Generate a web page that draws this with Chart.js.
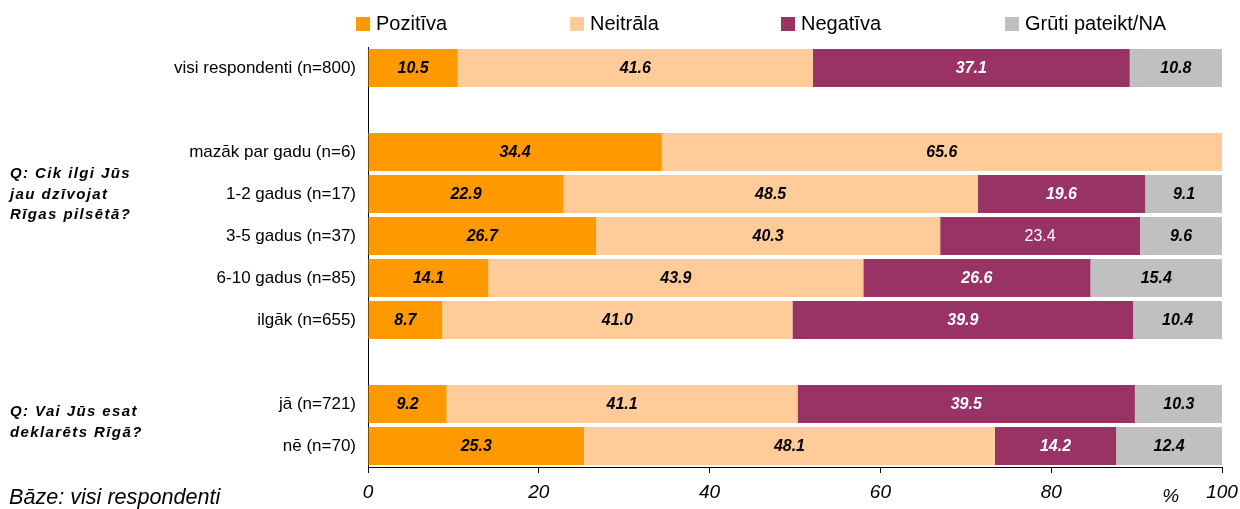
<!DOCTYPE html>
<html>
<head>
<meta charset="utf-8">
<script src="https://cdn.jsdelivr.net/npm/chart.js@4/dist/chart.umd.min.js"></script>
<style>
  body { margin: 0; background: #fff; font-family: "Liberation Sans", Arial, sans-serif; }
  #wrap { position: relative; width: 1240px; height: 509px; }
  .leg { position: absolute; top: 11px; font-size: 20px; color: #000; white-space: nowrap; line-height: 24px; }
  .leg i { display: inline-block; width: 14px; height: 14px; margin-right: 6px; vertical-align: -1px; }
  .q { position: absolute; left: 10px; font-size: 15px; font-weight: bold; font-style: italic; line-height: 20.5px; letter-spacing: 1.4px; }
  .base { position: absolute; left: 9px; top: 484px; font-size: 21.6px; font-style: italic; }
</style>
</head>
<body>
<div id="wrap">
  <canvas id="chart" width="1240" height="509"></canvas>
  <div id="legend"></div>
  <div class="q" style="top:163px">Q: Cik ilgi Jūs<br>jau dzīvojat<br>Rīgas pilsētā?</div>
  <div class="q" style="top:401px">Q: Vai Jūs esat<br>deklarēts Rīgā?</div>
  <div class="base">Bāze: visi respondenti</div>
</div>
<script>
// rows (blank strings are spacer rows)
const categories = [
  "visi respondenti (n=800)", "",
  "mazāk par gadu (n=6)", "1-2 gadus (n=17)", "3-5 gadus (n=37)", "6-10 gadus (n=85)", "ilgāk (n=655)", "",
  "jā (n=721)", "nē (n=70)"
];
const seriesNames = ["Pozitīva", "Neitrāla", "Negatīva", "Grūti pateikt/NA"];
const seriesColors = ["#FF9900", "#FFCC99", "#993366", "#C0C0C0"];
const pozitiva = [10.5, null, 34.4, 22.9, 26.7, 14.1, 8.7, null, 9.2, 25.3];
const neitrala = [41.6, null, 65.6, 48.5, 40.3, 43.9, 41.0, null, 41.1, 48.1];
const negativa = [37.1, null, null, 19.6, 23.4, 26.6, 39.9, null, 39.5, 14.2];
const gruti    = [10.8, null, null, 9.1, 9.6, 15.4, 10.4, null, 10.3, 12.4];
const xTicks = [0, 20, 40, 60, 80, 100];
const legendLeft = [356, 570, 781, 1005];

// legend as plain html
const legend = document.getElementById("legend");
seriesNames.forEach((name, i) => {
  const d = document.createElement("div");
  d.className = "leg";
  d.style.left = legendLeft[i] + "px";
  d.innerHTML = '<i style="background:' + seriesColors[i] + '"></i>' + name;
  legend.appendChild(d);
});

const allData = [pozitiva, neitrala, negativa, gruti];

// value labels inside the bars
const valueLabels = {
  id: "valueLabels",
  afterDatasetsDraw(chart) {
    const ctx = chart.ctx;
    ctx.save();
    ctx.textAlign = "center";
    ctx.textBaseline = "middle";
    chart.data.datasets.forEach((ds, di) => {
      const meta = chart.getDatasetMeta(di);
      meta.data.forEach((bar, i) => {
        const v = ds.data[i];
        if (v == null) return;
        const plain = (di === 2 && i === 4); // the 23.4 label is not bold/italic in the original
        ctx.font = plain ? '16px "Liberation Sans"' : 'italic bold 16px "Liberation Sans"';
        ctx.fillStyle = di === 2 ? "#fff" : "#000";
        ctx.fillText(v.toFixed(1), (bar.x + bar.base) / 2, bar.y + 1);
      });
    });
    // "%" next to the last tick
    const xs = chart.scales.x;
    ctx.font = 'italic 19px "Liberation Sans"';
    ctx.fillStyle = "#000";
    ctx.fillText("%", xs.getPixelForValue(94), 497);
    ctx.restore();
  }
};

new Chart(document.getElementById("chart"), {
  type: "bar",
  data: {
    labels: categories,
    datasets: allData.map((d, i) => ({
      label: seriesNames[i],
      data: d,
      backgroundColor: seriesColors[i],
      borderWidth: 0,
      barPercentage: 0.9,
      categoryPercentage: 1
    }))
  },
  options: {
    indexAxis: "y",
    responsive: false,
    animation: false,
    layout: { padding: { top: 47, right: 0, left: 0, bottom: 0 } },
    plugins: { legend: { display: false }, tooltip: { enabled: false } },
    scales: {
      x: {
        stacked: true,
        min: 0,
        max: 100,
        afterBuildTicks: (s) => { s.ticks = xTicks.map(v => ({ value: v })); },
        afterFit: (s) => { s.height = 42; s.paddingRight = 18; },
        grid: { drawOnChartArea: false, drawTicks: true, tickLength: 6, color: "#000" },
        border: { color: "#000", width: 1 },
        ticks: {
          padding: 8,
          color: "#000",
          font: { family: "Liberation Sans", size: 19, style: "italic" }
        }
      },
      y: {
        stacked: true,
        afterFit: (s) => { s.width = 368; },
        grid: { display: false },
        border: { display: true, color: "#000", width: 1 },
        ticks: {
          padding: 4,
          color: "#000",
          font: { family: "Liberation Sans", size: 17 }
        }
      }
    }
  },
  plugins: [valueLabels]
});
</script>
</body>
</html>
